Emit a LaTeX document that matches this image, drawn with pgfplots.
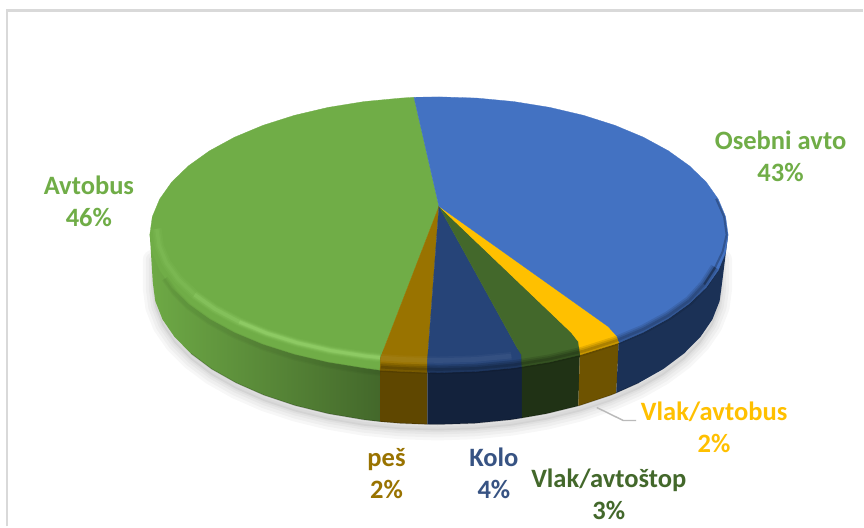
\documentclass[border=0pt]{standalone}
\usepackage{fontspec}
\setmainfont{Carlito}
\usepackage{pgfplots}
\usepackage{pgfplotstable}
\pgfplotsset{compat=1.18}
\definecolor{cGreen}{HTML}{70AD47}
\definecolor{cBlue}{HTML}{4372C2}
\definecolor{cNavy}{HTML}{264478}
\definecolor{cDk}{HTML}{43682B}
\definecolor{cYel}{HTML}{FFC000}
\definecolor{cOr}{HTML}{997300}
\definecolor{cGlow}{HTML}{B4F088}
\pgfplotstableread{
x y
153 260
153 289
155.5 307.5
162.7 325.8
174.7 343.3
191.2 360
211.9 375.5
236.5 389.4
264.5 401.7
295.5 412
328.9 420.2
364.2 426.2
400.8 429.8
438 431
475.2 429.8
511.8 426.2
547.1 420.2
580.5 412
611.5 401.7
639.5 389.4
664.1 375.5
684.8 360
701.3 343.3
713.3 325.8
720.5 307.5
723 289
723 260
}\shadowcurve
\pgfplotstableread{
x y
157 229
159.4 246.2
166.6 263.2
178.5 279.5
194.8 295
215.3 309.4
239.6 322.3
267.3 333.7
298 343.3
331.1 351
366 356.5
380.5 358
}\ridgeall
\pgfplotstableread{
x y
194.8 295
215.3 309.4
239.6 322.3
267.3 333.7
298 343.3
331.1 351
366 356.5
380.5 358
}\ridgemid
\pgfplotstableread{
x y
239.6 322.3
267.3 333.7
298 343.3
331.1 351
366 356.5
380.5 358
}\ridgepeak
\pgfplotstableread{
x y
381 358.5
402.2 359.9
439 361
475.8 359.9
512 356.5
}\ridgefront
\pgfplotstableread{
x y
381 367.6
401.7 368.8
439.5 370
477.3 368.8
514.4 365.3
550.3 359.5
584.3 351.5
615.7 341.5
644.2 329.6
669.2 316
690.2 301
705 284.8
716 267.7
}\darkfront
\pgfplotstableread{
x y
705 284.8
716 267.7
723.5 252
727.5 235
725 217
717 199
}\darktail
\pgfplotstableread{
x y
165 279
175 293
188.8 307
209.8 322
234.8 335.6
263.3 347.5
294.7 357.5
328.7 365.5
364.6 371.3
381 373
}\darkleft
\pgfplotstableread{
x y
191.2 354
211.9 369.5
236.5 383.4
264.5 395.7
295.5 406
328.9 414.2
364.2 420.2
400.8 423.8
438 425
475.2 423.8
511.8 420.2
547.1 414.2
580.5 406
611.5 395.7
639.5 383.4
}\bottomedge
\begin{document}
\begin{tikzpicture}
\begin{axis}[
  scale only axis, width=648pt, height=395.25pt,
  xmin=0, xmax=864, ymin=0, ymax=527, y dir=reverse,
  axis lines=none, clip=false,
]
% page
\addplot[draw=none, fill=white] coordinates {(0,0) (864,0) (864,527) (0,527)} -- cycle;
% frame
\addplot[draw=black!15, line width=1.6pt] coordinates {(7,527) (7,10.5) (864,10.5)};
% shadow
\addplot[fill=black, fill opacity=0.05, draw=none] table {\shadowcurve} -- cycle;
\addplot[draw=black, draw opacity=0.03, line width=15pt, line join=round] table {\shadowcurve} -- cycle;
\addplot[draw=black, draw opacity=0.03, line width=10.5pt, line join=round] table {\shadowcurve} -- cycle;
\addplot[draw=black, draw opacity=0.03, line width=6pt, line join=round] table {\shadowcurve} -- cycle;
\addplot[draw=black, draw opacity=0.03, line width=2.5pt, line join=round] table {\shadowcurve} -- cycle;
% sides
\addplot[draw=none, left color=cGreen!98!black, middle color=cGreen!80!black, right color=cGreen!60!black] coordinates {(150,235) (153,283) (155.5,301.5) (162.7,319.8) (174.7,337.3) (191.2,354) (211.9,369.5) (236.5,383.4) (264.5,395.7) (295.5,406) (328.9,414.2) (364.2,420.2) (380.5,422.2) (380.5,340) (200,260)} -- cycle;
\addplot[draw=none, fill=cOr!62!black] coordinates {(380.5,422.2) (400.8,423.8) (428,424.9) (428,350) (380.5,350)} -- cycle;
\addplot[draw=none, fill=cNavy!50!black] coordinates {(428,424.9) (438,425) (475.2,423.8) (511.8,420.2) (522.5,418.5) (522.5,350) (428,350)} -- cycle;
\addplot[draw=none, fill=cDk!48!black] coordinates {(522.5,418.5) (547.1,414.2) (579,406.4) (581,340) (522.5,340)} -- cycle;
\addplot[draw=none, fill=cYel!43!black] coordinates {(579,406.4) (580.5,406) (611.5,395.7) (617,393.5) (620,335) (581,340)} -- cycle;
\addplot[draw=none, fill=cNavy!72!black] coordinates {(617,393.5) (639.5,383.4) (664.1,369.5) (684.8,354) (701.3,337.3) (713.3,319.8) (720.5,301.5) (723,283) (729,235) (700,260) (620,330)} -- cycle;
\addplot[draw=black, draw opacity=0.18, line width=0.8pt, line join=round] table {\bottomedge};
% top face slices
\addplot[draw=cGreen, line width=0.2pt, fill=cGreen] coordinates {(439.5,206.5) (414.5,97.4) (401.7,98.2) (364.6,101.7) (328.7,107.5) (294.7,115.5) (263.3,125.5) (234.8,137.4) (209.8,151) (188.8,166) (172,182.2) (159.9,199.3) (152.5,217) (150,235) (152.5,253) (159.9,270.7) (172,287.8) (188.8,304) (209.8,319) (234.8,332.6) (263.3,344.5) (294.7,354.5) (328.7,362.5) (364.6,368.3) (380.5,370.6) (381,358)} -- cycle;
\addplot[draw=cOr, line width=0.2pt, fill=cOr] coordinates {(439.5,206.5) (381,358) (380.5,370.6) (401.7,371.8) (428,372.8) (428,360)} -- cycle;
\addplot[draw=cNavy, line width=0.2pt, fill=cNavy] coordinates {(439.5,206.5) (428,360) (428,372.8) (439.5,373) (477.3,371.8) (514.4,368.3) (522.5,367) (522,355) (517,347)} -- cycle;
\addplot[draw=cDk, line width=0.2pt, fill=cDk] coordinates {(439.5,206.5) (517,347) (522,355) (522.5,367) (550.3,362.5) (581,355.3) (579,342) (572,333)} -- cycle;
\addplot[draw=cYel, line width=0.2pt, fill=cYel] coordinates {(439.5,206.5) (572,333) (579,342) (581,355.3) (615.7,344.5) (620,343) (618,337) (609,327)} -- cycle;
\addplot[draw=cBlue, line width=0.2pt, fill=cBlue] coordinates {(439.5,206.5) (609,327) (618,337) (620,343) (644.2,332.6) (669.2,319) (690.2,304) (707,287.8) (719.1,270.7) (726.5,253) (729,235) (726.5,217) (719.1,199.3) (707,182.2) (690.2,166) (669.2,151) (644.2,137.4) (615.7,125.5) (584.3,115.5) (550.3,107.5) (514.4,101.7) (477.3,98.2) (439.5,97) (414.5,97.4)} -- cycle;
% bevel: ridge highlight
\addplot[draw=cGlow, draw opacity=0.05, line width=7pt, line join=round] table {\ridgeall};
\addplot[draw=cGlow, draw opacity=0.06, line width=4.5pt, line join=round] table {\ridgeall};
\addplot[draw=cGlow, draw opacity=0.07, line width=2.5pt, line join=round] table {\ridgeall};
\addplot[draw=cGlow, draw opacity=0.08, line width=5.5pt, line join=round] table {\ridgemid};
\addplot[draw=cGlow, draw opacity=0.10, line width=3pt, line join=round] table {\ridgemid};
\addplot[draw=cGlow, draw opacity=0.10, line width=4pt, line join=round] table {\ridgepeak};
\addplot[draw=cGlow, draw opacity=0.14, line width=2pt, line join=round] table {\ridgepeak};
\addplot[draw=white, draw opacity=0.03, line width=6pt, line join=round] table {\ridgefront};
\addplot[draw=white, draw opacity=0.04, line width=3.5pt, line join=round] table {\ridgefront};
% bevel: fall into the side
\addplot[draw=black, draw opacity=0.10, line width=7pt, line join=round] table {\darkfront};
\addplot[draw=black, draw opacity=0.12, line width=4.5pt, line join=round] table {\darkfront};
\addplot[draw=black, draw opacity=0.15, line width=2pt, line join=round] table {\darkfront};
\addplot[draw=black, draw opacity=0.25, line width=1.5pt, line join=round] table {\darktail};
\addplot[draw=black, draw opacity=0.03, line width=5pt, line join=round] table {\darkleft};
\addplot[draw=black, draw opacity=0.03, line width=3pt, line join=round] table {\darkleft};
% leader
\addplot[draw=black!27, line width=1.1pt, line join=round] coordinates {(597.5,408) (624,421) (637,421)};
% labels
\tikzset{lab/.style={anchor=base, inner sep=0pt, font=\fontsize{19.9}{22}\selectfont\bfseries}}
\node[lab, text=cGreen] at (axis cs:781.5,150) {Osebni avto};
\node[lab, text=cGreen] at (axis cs:781.5,182) {43\%};
\node[lab, text=cGreen] at (axis cs:89,195) {Avtobus};
\node[lab, text=cGreen] at (axis cs:89,227) {46\%};
\node[lab, text=cYel] at (axis cs:715,421) {Vlak/avtobus};
\node[lab, text=cYel] at (axis cs:715,453) {2\%};
\node[lab, text=cOr] at (axis cs:387,467) {peš};
\node[lab, text=cOr] at (axis cs:387,499) {2\%};
\node[lab, text=cNavy!92!white] at (axis cs:494.5,467) {Kolo};
\node[lab, text=cNavy!92!white] at (axis cs:494.5,499) {4\%};
\node[lab, text=cDk] at (axis cs:609.5,488) {Vlak/avtoštop};
\node[lab, text=cDk] at (axis cs:609.5,520) {3\%};
\end{axis}
\end{tikzpicture}
\end{document}
